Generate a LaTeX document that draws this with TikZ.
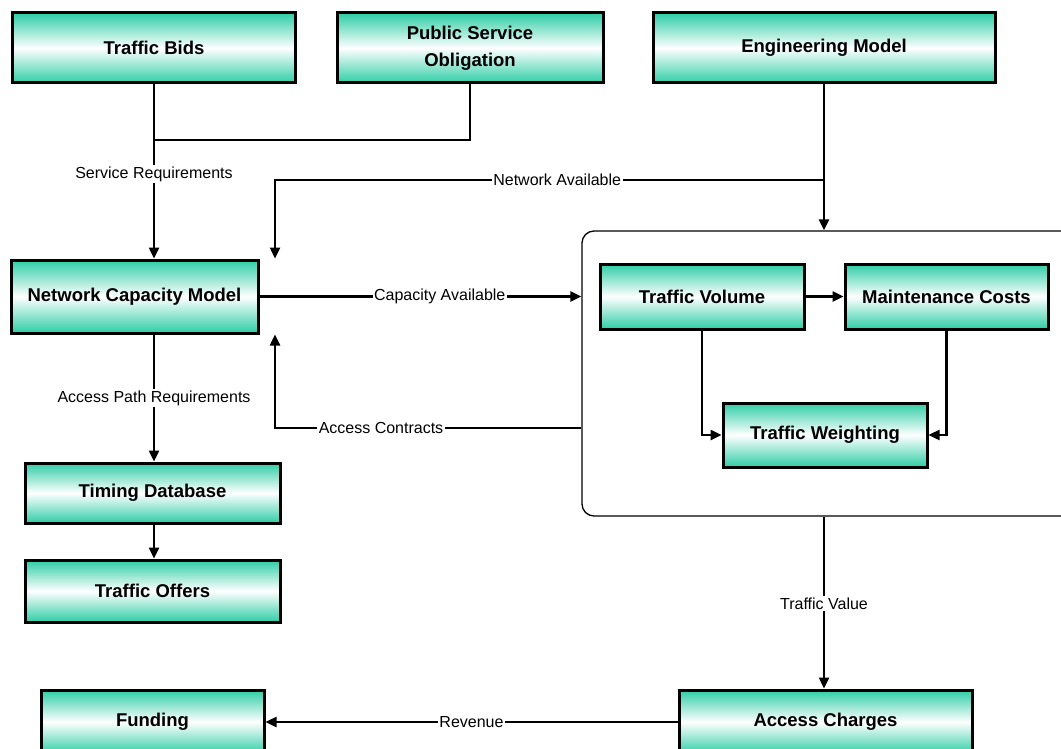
\documentclass[tikz,border=0pt]{standalone}
\usepackage{fontspec}
\setmainfont{Liberation Sans}
\usepackage{tikz}
\usetikzlibrary{arrows.meta,positioning,calc}
\definecolor{cMint}{HTML}{2ECDA6}
\definecolor{cInk}{HTML}{000000}
\tikzset{
  mbox/.style={draw=cInk,line width=3pt,top color=cMint,bottom color=cMint,middle color=white,align=center,font=\fontsize{18.5}{27}\selectfont\bfseries,inner sep=0pt,text=cInk},
  grp/.style={draw=cInk,line width=1.3pt,rounded corners=12pt,inner sep=0pt},
  ln/.style={line width=2.4pt,color=cInk},
  arr/.style={-{Triangle[length=11pt,width=10pt]},line width=2.4pt,color=cInk},
  lbl/.style={font=\fontsize{16}{18}\selectfont,text=cInk,fill=white,inner sep=1.5pt},
}

\begin{document}
\begin{tikzpicture}[x=1pt,y=-1pt]
  \useasboundingbox (0,0) rectangle (1061,749);
  % boxes
  \node[mbox,minimum width=283,minimum height=70] (bids) at (154,48) {Traffic Bids};
  \node[mbox,minimum width=266,minimum height=70] (pso) at (470,48) {Public Service\\Obligation};
  \node[mbox,minimum width=342,minimum height=70] (eng) at (824,48) {Engineering Model};
  \node[mbox,minimum width=247,minimum height=73] (ncm) at (134.5,296.5) {Network Capacity Model};
  \node[grp,minimum width=493,minimum height=285] (grp) at (828.5,373.5) {};
  \node[mbox,minimum width=204,minimum height=65] (vol) at (702,296.5) {Traffic Volume};
  \node[mbox,minimum width=203,minimum height=65] (mc) at (946.5,296.5) {Maintenance Costs};
  \node[mbox,minimum width=204,minimum height=64] (tw) at (825,435) {Traffic Weighting};
  \node[mbox,minimum width=255,minimum height=60] (tdb) at (152.5,493) {Timing Database};
  \node[mbox,minimum width=255,minimum height=62] (off) at (152.5,591) {Traffic Offers};
  \node[mbox,minimum width=223,minimum height=64] (fund) at (152.5,722) {Funding};
  \node[mbox,minimum width=293,minimum height=64] (chg) at (825.5,722) {Access Charges};
  % junctions
  \coordinate (jreq) at (154,140);
  \coordinate (jnet) at (824,180);
  \coordinate (kx) at (275,0);
  % connectors
  \draw[ln] (bids.south) -- (jreq);
  \draw[ln] (pso.south) |- (jreq);
  \draw[arr] (jreq) -- node[lbl,pos=0.29]{Service Requirements} (jreq |- ncm.north);
  \draw[arr] (eng.south) -- (eng.south |- grp.north);
  \draw[arr] (jnet) -| node[lbl,pos=0.243]{Network Available} (kx |- ncm.north);
  \draw[arr] (ncm.east) -- node[lbl,pos=0.56]{Capacity Available} (ncm.east -| grp.west);
  \draw[arr] (grp.west |- 0,428) -| node[lbl,pos=0.327]{Access Contracts} (kx |- ncm.south);
  \draw[arr] (jreq |- ncm.south) -- node[lbl]{Access Path Requirements} (jreq |- tdb.north);
  \draw[arr] (jreq |- tdb.south) -- (jreq |- off.north);
  \draw[arr] (vol.east) -- (mc.west);
  \draw[arr] (vol.south) |- (tw.west);
  \draw[arr] (mc.south) |- (tw.east);
  \draw[arr] (eng.south |- grp.south) -- node[lbl,pos=0.506]{Traffic Value} (eng.south |- chg.north);
  \draw[arr] (chg.west) -- node[lbl]{Revenue} (fund.east);
\end{tikzpicture}
\end{document}
